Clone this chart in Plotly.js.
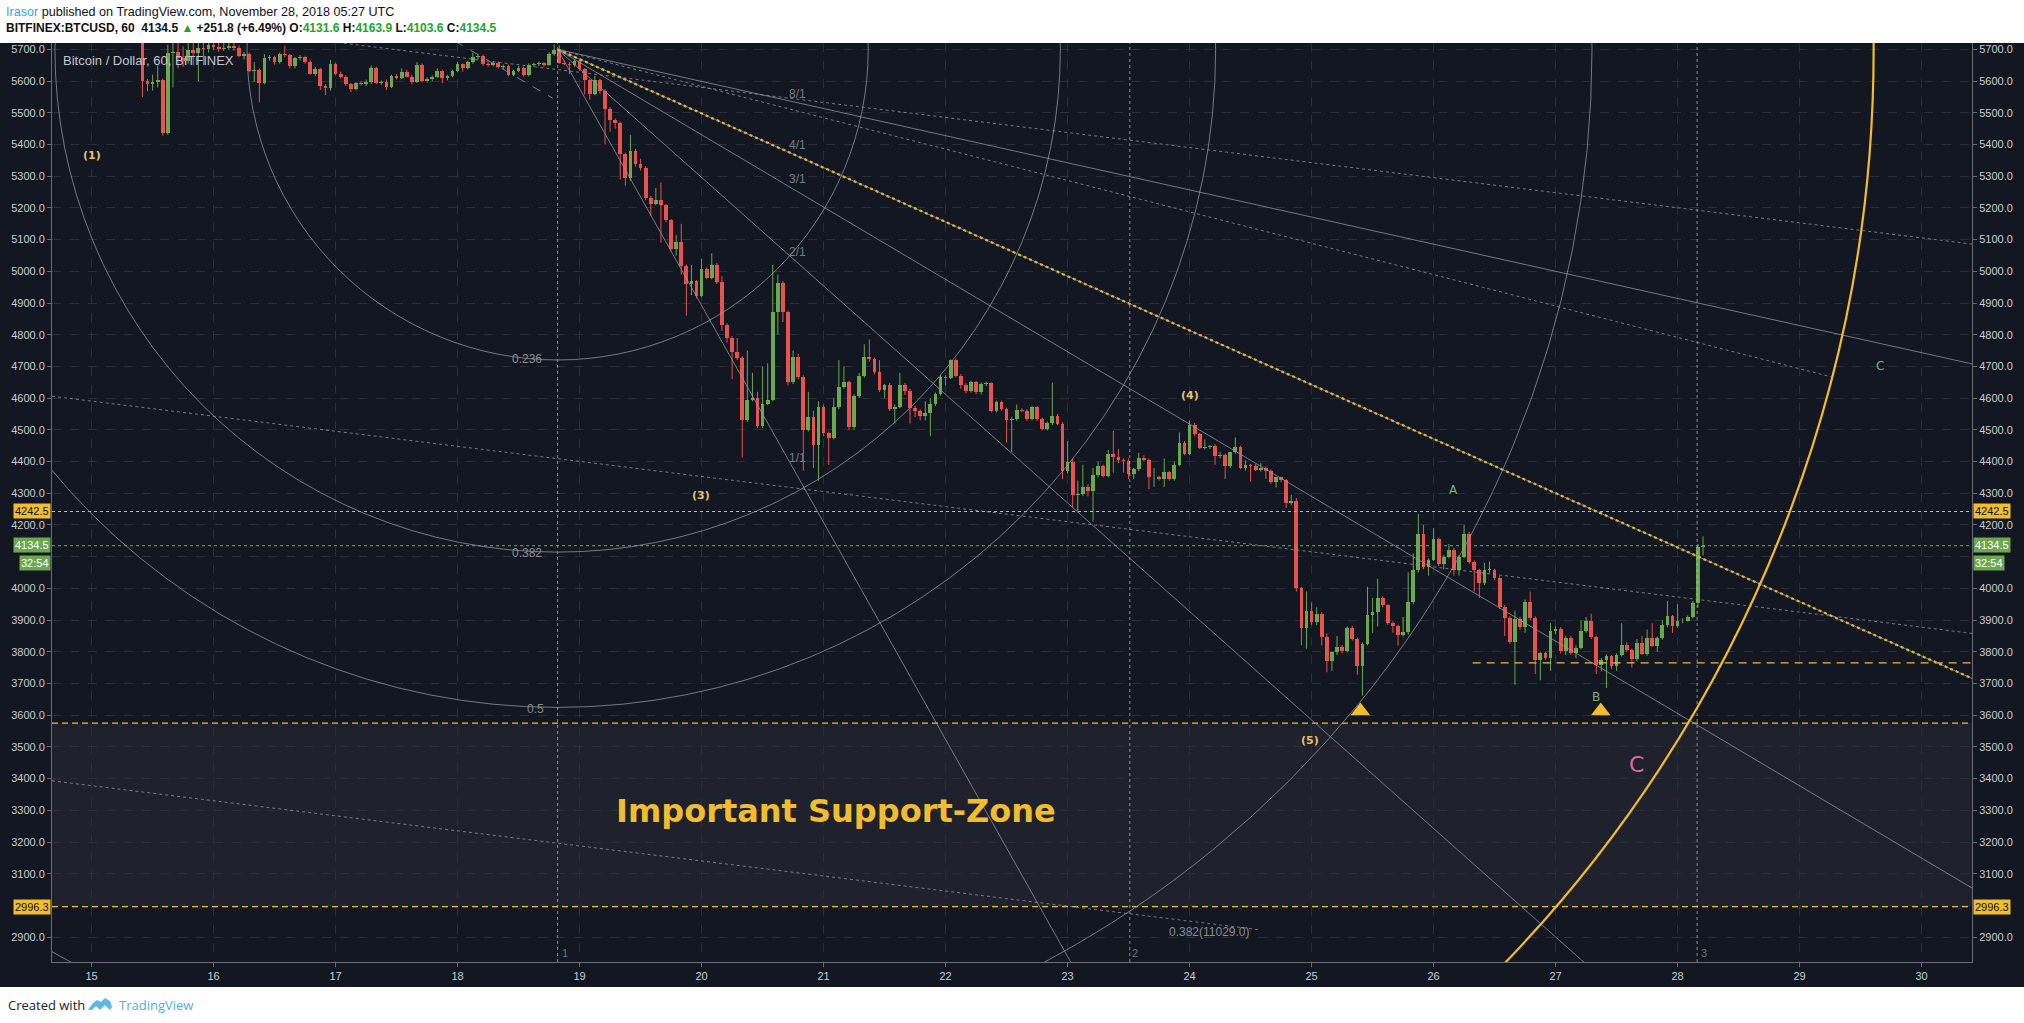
<!DOCTYPE html>
<html><head><meta charset="utf-8">
<script src="https://cdn.plot.ly/plotly-3.0.1.min.js"></script>
<style>html,body{margin:0;padding:0;background:#fff;overflow:hidden}#chart{width:2024px;height:1023px}</style>
</head><body><div id="chart"></div>
<script>
// ---------- DATA (hourly candles BITFINEX:BTCUSD, from Nov 15 2018 10:00) ----------
const firstCandle = '2018-11-15 10:00';
const opens = [5745,5600,5590,5597,5603,5435,5688,5692,5672,5662,
5697,5690,5705,5700,5714,5708,5700,5706,5712,5705,
5680,5686,5632,5636,5593,5672,5677,5659,5684,5682,
5648,5672,5677,5661,5624,5638,5586,5577,5653,5624,
5614,5590,5575,5593,5591,5596,5640,5593,5598,5582,
5616,5611,5630,5614,5598,5651,5600,5608,5614,5632,
5609,5617,5632,5653,5640,5659,5677,5680,5653,5650,
5658,5645,5648,5619,5632,5642,5619,5651,5653,5656,
5651,5684,5698,5658,5655,5651,5663,5637,5602,5560,
5602,5569,5511,5476,5469,5369,5295,5381,5340,5327,
5232,5213,5224,5209,5161,5072,5092,5017,4960,4968,
4922,5008,4980,5020,4965,4830,4790,4746,4727,4530,
4594,4600,4511,4582,4594,4871,4963,4871,4650,4731,
4668,4500,4542,4453,4573,4489,4474,4573,4636,4650,
4508,4608,4671,4731,4723,4681,4626,4640,4566,4573,
4643,4624,4569,4558,4543,4553,4582,4613,4666,4665,
4720,4671,4641,4624,4650,4618,4645,4647,4561,4587,
4566,4531,4534,4562,4560,4534,4571,4534,4503,4521,
4544,4520,4369,4400,4295,4299,4320,4308,4358,4387,
4355,4423,4413,4404,4402,4360,4376,4411,4404,4350,
4351,4345,4366,4345,4389,4460,4423,4516,4486,4444,
4446,4450,4418,4420,4387,4429,4446,4379,4390,4387,
4374,4381,4371,4337,4350,4341,4268,4277,4001,3875,
3930,3893,3919,3848,3772,3798,3816,3802,3875,3840,
3754,3825,3916,3927,3970,3946,3890,3880,3853,3862,
3956,4058,4170,4067,4090,4156,4077,4100,4121,4059,
4100,4172,4082,4058,4016,4058,4058,4033,3942,3907,
3832,3904,3877,3958,3907,3775,3795,3780,3867,3872,
3803,3844,3796,3812,3867,3896,3846,3759,3775,3786,
3754,3791,3822,3807,3778,3828,3793,3843,3819,3843,
3883,3912,3880,3896,3898,3909,3954,4131.6];
const highs = [5760,5606,5620,5650,5608,5715,5725,5722,5710,5720,
5725,5725,5725,5728,5726,5722,5722,5725,5725,5712,
5692,5690,5660,5640,5685,5682,5680,5690,5712,5686,
5676,5682,5680,5665,5645,5642,5590,5667,5658,5630,
5618,5594,5597,5600,5605,5650,5645,5602,5605,5620,
5622,5640,5636,5620,5660,5656,5612,5618,5640,5636,
5620,5636,5660,5656,5664,5690,5686,5684,5660,5662,
5662,5652,5652,5636,5648,5646,5656,5658,5662,5660,
5690,5716,5714,5665,5660,5668,5667,5641,5606,5616,
5608,5575,5518,5482,5472,5374,5430,5386,5355,5332,
5238,5263,5280,5212,5165,5115,5150,5022,5020,4972,
5040,5012,5057,5026,4985,4836,4795,4790,4732,4750,
4680,4620,4700,4710,5021,4990,4970,4876,4750,4740,
4672,4620,4560,4590,4580,4495,4600,4720,4700,4655,
4612,4680,4770,4785,4728,4720,4645,4648,4580,4680,
4648,4630,4575,4565,4590,4600,4618,4672,4672,4722,
4725,4676,4648,4655,4654,4650,4652,4650,4592,4592,
4570,4540,4580,4568,4565,4576,4575,4538,4526,4649,
4550,4525,4465,4410,4340,4390,4328,4380,4400,4390,
4437,4497,4440,4410,4410,4380,4428,4420,4410,4380,
4355,4410,4370,4400,4492,4465,4530,4522,4490,4470,
4452,4455,4430,4425,4430,4476,4450,4404,4393,4392,
4395,4385,4375,4350,4352,4345,4295,4285,4005,3990,
3955,3940,3925,3858,3800,3850,3822,3880,3882,3845,
3830,4005,3970,4030,3975,3950,3895,3885,3910,4050,
4110,4235,4200,4095,4190,4160,4105,4140,4128,4105,
4200,4178,4088,4062,4080,4085,4062,4038,3948,3912,
3930,3910,3965,3990,3912,3800,3800,3890,3880,3878,
3850,3850,3820,3900,3910,3920,3850,3780,3792,3790,
3795,3890,3830,3810,3840,3850,3870,3890,3848,3900,
3960,3916,3950,3905,3915,3960,4140,4163.9];
const lows = [5550,5568,5570,5580,5428,5430,5580,5640,5645,5655,
5650,5600,5650,5690,5698,5692,5695,5698,5695,5675,
5668,5628,5598,5533,5590,5665,5652,5655,5675,5640,
5640,5665,5655,5620,5615,5572,5556,5570,5618,5608,
5585,5565,5570,5586,5585,5590,5590,5588,5572,5578,
5605,5606,5612,5590,5594,5596,5595,5600,5610,5594,
5602,5612,5628,5630,5636,5655,5668,5648,5645,5646,
5640,5638,5615,5615,5628,5614,5615,5645,5648,5645,
5648,5680,5655,5650,5622,5645,5632,5558,5542,5555,
5560,5400,5440,5450,5290,5270,5285,5330,5318,5225,
5175,5208,5090,5155,5065,5050,4990,4860,4925,4915,
4918,4975,4975,4960,4812,4775,4660,4720,4413,4525,
4590,4505,4505,4578,4590,4800,4840,4640,4645,4660,
4371,4495,4380,4340,4480,4390,4470,4565,4630,4500,
4500,4600,4665,4715,4675,4620,4600,4560,4520,4568,
4610,4520,4540,4530,4530,4480,4575,4608,4640,4660,
4665,4630,4615,4618,4612,4612,4638,4555,4555,4560,
4460,4430,4528,4555,4528,4530,4528,4498,4498,4515,
4515,4345,4362,4253,4245,4292,4290,4211,4350,4350,
4350,4365,4395,4365,4345,4345,4370,4400,4313,4320,
4340,4320,4340,4340,4385,4420,4420,4480,4440,4438,
4440,4390,4410,4345,4380,4425,4376,4372,4337,4370,
4368,4345,4330,4318,4335,4253,4262,3990,3820,3810,
3885,3885,3820,3735,3740,3790,3795,3798,3835,3727,
3662,3820,3860,3880,3940,3885,3860,3820,3848,3855,
3950,4050,4060,4040,4086,4070,4060,4095,4040,4040,
4095,4078,3990,3970,4010,4050,4025,3935,3850,3825,
3696,3870,3860,3900,3730,3710,3775,3740,3855,3795,
3790,3790,3780,3808,3860,3840,3730,3738,3686,3745,
3740,3785,3800,3750,3770,3790,3788,3815,3800,3838,
3878,3860,3875,3890,3895,3905,3940,4103.6];
const closes = [5600,5590,5597,5603,5435,5688,5692,5672,5662,5697,
5690,5705,5700,5714,5708,5700,5706,5712,5705,5680,
5686,5632,5636,5593,5672,5677,5659,5684,5682,5648,
5672,5677,5661,5624,5638,5586,5577,5653,5624,5614,
5590,5575,5593,5591,5596,5640,5593,5598,5582,5616,
5611,5630,5614,5598,5651,5600,5608,5614,5632,5609,
5617,5632,5653,5640,5659,5677,5680,5653,5650,5658,
5645,5648,5619,5632,5642,5619,5651,5653,5656,5651,
5684,5698,5658,5655,5651,5663,5637,5602,5560,5602,
5569,5511,5476,5469,5369,5295,5381,5340,5327,5232,
5213,5224,5209,5161,5072,5092,5017,4960,4968,4922,
5008,4980,5020,4965,4830,4790,4746,4727,4530,4594,
4600,4511,4582,4594,4871,4963,4871,4650,4731,4668,
4500,4542,4453,4573,4489,4474,4573,4636,4650,4508,
4608,4671,4731,4723,4681,4626,4640,4566,4573,4643,
4624,4569,4558,4543,4553,4582,4613,4666,4665,4720,
4671,4641,4624,4650,4618,4645,4647,4561,4587,4566,
4531,4534,4562,4560,4534,4571,4534,4503,4521,4544,
4520,4369,4400,4295,4299,4320,4308,4358,4387,4355,
4423,4413,4404,4402,4360,4376,4411,4404,4350,4351,
4345,4366,4345,4389,4460,4423,4516,4486,4444,4446,
4450,4418,4420,4387,4429,4446,4379,4390,4387,4374,
4381,4371,4337,4350,4341,4268,4277,4001,3875,3930,
3893,3919,3848,3772,3798,3816,3802,3875,3840,3754,
3825,3916,3927,3970,3946,3890,3880,3853,3862,3956,
4058,4170,4067,4090,4156,4077,4100,4121,4059,4100,
4172,4082,4058,4016,4058,4058,4033,3942,3907,3832,
3904,3877,3958,3907,3775,3795,3780,3867,3872,3803,
3844,3796,3812,3867,3896,3846,3759,3775,3786,3754,
3791,3822,3807,3778,3828,3793,3843,3819,3843,3883,
3912,3880,3896,3898,3909,3954,4131.6,4134.5];

const dayTicks = [15,16,17,18,19,20,21,22,23,24,25,26,27,28,29,30];
const dayTickLabels = ['15','16','17','18','19','20','21','22','23','24','25','26','27','28','29','30'];
// price scale labels (3000.0 and 4100.0 sit under the 2996.3 / 4134.5 price boxes)
const priceTicks = [2900,3100,3200,3300,3400,3500,3600,3700,3800,3900,4000,4200,4300,4400,4500,4600,4700,4800,4900,5000,5100,5200,5300,5400,5500,5600,5700];
const priceTickLabels = ['2900.0','3100.0','3200.0','3300.0','3400.0','3500.0','3600.0','3700.0','3800.0','3900.0','4000.0','4200.0','4300.0','4400.0','4500.0','4600.0','4700.0','4800.0','4900.0','5000.0','5100.0','5200.0','5300.0','5400.0','5500.0','5600.0','5700.0'];
const fibLevels = [0.236, 0.382, 0.5, 0.786, 1];
const fibLabels = ['0.236', '0.382', '0.5'];
const gannRatios = [8, 4, 3, 2, 1];
const gannLabels = ['8/1', '4/1', '3/1', '2/1', '1/1'];
const resistancePrice = 4242.5;
const lastPrice = 4134.5;
const supportTop = 3575;
const supportBottom = 2996.3;
const bLevel = 3765;
const waveLabels = ['(1)', '(3)', '(4)', '(5)'];
const waveDays = [15.0, 19.995, 24.0, 24.99];
const wavePrices = [5364, 4292, 4607, 3519];
const abcLabels = ['A', 'B', 'C'];
const abcDays = [26.16, 27.33, 29.66];
const abcPrices = [4309, 3657, 4700];
const triangleDays = [25.40, 27.37];
const trianglePrices = [3613, 3613];

// ---------- helpers ----------
const HOUR = 3600000;
function fmt(ms) { return new Date(ms).toISOString().slice(0, 19).replace('T', ' '); }
const t0 = Date.parse(firstCandle.replace(' ', 'T') + ':00Z');
const times = opens.map((_, i) => fmt(t0 + i * HOUR));
function dayX(d) { return fmt(Date.UTC(2018, 10, 1) + (d - 1) * 86400000); }
const X_LEFT = 14.6754, X_RIGHT = 30.4131;
const PX_PER_DAY = 122.0, PX_PER_USD = 0.31704;
function px(x) { return (x - 52) / 1920; }
function py(y) { return (962 - y) / 919; }

const UP = '#6ba84f', DN = '#e8534f';
const colors = closes.map((c, i) => c >= opens[i] ? UP : DN);
const bodyBase = closes.map((c, i) => Math.min(c, opens[i]));
const bodyLen = closes.map((c, i) => Math.max(Math.abs(c - opens[i]), 2));

function wick(up) {
  const xs = [], ys = [];
  closes.forEach((c, i) => {
    if ((c >= opens[i]) === up) { xs.push(times[i], times[i], null); ys.push(lows[i], highs[i], null); }
  });
  return { type: 'scatter', mode: 'lines', x: xs, y: ys, line: { color: up ? UP : DN, width: 1 }, hoverinfo: 'skip', showlegend: false };
}

const traces = [
  wick(true), wick(false),
  { type: 'bar', x: times, y: bodyLen, base: bodyBase, width: HOUR * 0.74,
    marker: { color: colors, line: { width: 0 } }, showlegend: false, hoverinfo: 'skip' },
  { type: 'scatter', mode: 'markers', x: triangleDays.map(dayX), y: trianglePrices,
    marker: { symbol: 'triangle-up', size: 17, color: '#f0bd2f' }, showlegend: false, hoverinfo: 'skip' },
  { type: 'scatter', x: [times[0]], y: [null], yaxis: 'y2', showlegend: false, hoverinfo: 'skip' },
  { type: 'scatter', x: [times[0]], y: [null], yaxis: 'y3', showlegend: false, hoverinfo: 'skip' }
];

// ---------- drawings ----------
const GREY = 'rgba(150,153,163,0.75)';
const fanT = 18.82, fanP = 5700, slope11 = 684.5;
const shapes = [];
shapes.push({ type: 'rect', xref: 'paper', yref: 'paper', x0: px(0), x1: px(2024), y0: py(987), y1: py(43),
  fillcolor: '#131722', line: { width: 0 }, layer: 'below' });
// faint fill of the Gann fan sector (between 8/1 and 1/1)
shapes.push({ type: 'path', layer: 'below', fillcolor: 'rgba(160,170,200,0.055)', line: { width: 0 },
  path: 'M' + dayX(fanT) + ',' + fanP + ' L' + dayX(X_RIGHT) + ',' + (fanP - slope11 / 8 * (X_RIGHT - fanT)) +
        ' L' + dayX(X_RIGHT) + ',0 L' + dayX(fanT + fanP / slope11) + ',0 Z' });
shapes.push({ type: 'rect', xref: 'paper', yref: 'y', x0: 0, x1: 1, y0: supportBottom, y1: supportTop,
  fillcolor: 'rgba(150,155,170,0.09)', line: { width: 0 }, layer: 'below' });
shapes.push({ type: 'line', xref: 'paper', x0: 0, x1: 1, y0: supportTop, y1: supportTop, line: { color: '#f0bd2f', width: 1.3, dash: '6px,4px' } });
shapes.push({ type: 'line', xref: 'paper', x0: 0, x1: 1, y0: supportBottom, y1: supportBottom, line: { color: '#f0bd2f', width: 1.3, dash: '6px,4px' } });
shapes.push({ type: 'line', xref: 'paper', x0: 0, x1: 1, y0: resistancePrice, y1: resistancePrice, line: { color: '#f0bd2f', width: 1, dash: '3px,3px' } });
shapes.push({ type: 'line', xref: 'paper', x0: 0, x1: 1, y0: lastPrice, y1: lastPrice, line: { color: '#6ba84f', width: 1, dash: '3px,3px' } });
shapes.push({ type: 'line', x0: dayX(26.32), x1: dayX(X_RIGHT), y0: bLevel, y1: bLevel, line: { color: '#f0bd2f', width: 1.3, dash: '8px,6px' } });
[18.82, 23.51, 28.16].forEach(d => shapes.push({ type: 'line', x0: dayX(d), x1: dayX(d), yref: 'paper', y0: 0, y1: 1,
  line: { color: 'rgba(190,193,200,0.7)', width: 1, dash: 'dot' } }));
gannRatios.forEach(n => shapes.push({ type: 'line', x0: dayX(fanT), y0: fanP, x1: dayX(X_RIGHT),
  y1: fanP - slope11 / n * (X_RIGHT - fanT), line: { color: GREY, width: 1 } }));
shapes.push({ type: 'line', x0: dayX(fanT), y0: fanP, x1: dayX(X_RIGHT), y1: fanP - slope11 / 4 * (X_RIGHT - fanT),
  line: { color: '#e0b73a', width: 2.2, dash: 'dot' } });
shapes.push({ type: 'line', x0: dayX(fanT), y0: fanP, x1: dayX(29.27), y1: 4666, line: { color: GREY, width: 1, dash: 'dot' } });
const R1 = 1316;
fibLevels.forEach(l => {
  const dt = l * R1 / PX_PER_DAY, dp = l * R1 / PX_PER_USD;
  shapes.push({ type: 'circle', x0: dayX(fanT - dt), x1: dayX(fanT + dt), y0: fanP - dp, y1: fanP + dp,
    line: l === 1 ? { color: '#f0bd2f', width: 2.2 } : { color: GREY, width: 1 } });
});
shapes.push({ type: 'line', x0: dayX(X_LEFT), y0: 5833, x1: dayX(X_RIGHT), y1: 5086, line: { color: GREY, width: 1, dash: 'dot' } });
shapes.push({ type: 'line', x0: dayX(X_LEFT), y0: 4606, x1: dayX(X_RIGHT), y1: 3858, line: { color: GREY, width: 1, dash: 'dot' } });
shapes.push({ type: 'line', x0: dayX(X_LEFT), y0: 3393, x1: dayX(24.575), y1: 2923, line: { color: GREY, width: 1, dash: 'dot' } });
shapes.push({ type: 'line', x0: dayX(17.85), y0: 5755, x1: dayX(18.78), y1: 5546, line: { color: GREY, width: 1, dash: 'dash' } });
function P(x, y) { return px(x) + ',' + py(y); }
shapes.push({ type: 'path', xref: 'paper', yref: 'paper', fillcolor: '#5bb8e8', line: { width: 0 },
  path: 'M' + P(88, 1010) + ' L' + P(93, 1003) + ' L' + P(97, 1000) + ' L' + P(101, 1002) + ' L' + P(105, 998) + ' L' + P(110, 1001) + ' L' + P(112, 1007) + ' L' + P(110, 1010) + ' L' + P(105, 1005) + ' L' + P(100, 1010) + ' L' + P(96, 1006) + ' L' + P(92, 1010) + ' Z' });

// ---------- annotations ----------
const ann = [];
function A(x, y, text, o) { ann.push(Object.assign({ x: x, y: y, text: text, showarrow: false,
  font: { family: 'Liberation Sans, Arial, sans-serif', size: 12, color: '#787b86' } }, o || {})); }
A(px(4), py(12), '<span style="color:#3ba4dd">Irasor</span> published on TradingView.com, November 28, 2018 05:27 UTC',
  { xref: 'paper', yref: 'paper', xanchor: 'left', yanchor: 'middle', font: { family: 'Liberation Sans, sans-serif', size: 12.6, color: '#111' } });
A(px(4), py(28), '<b>BITFINEX:BTCUSD, 60  4134.5 <span style="color:#1fa32a">▲</span> +251.8 (+6.49%) O:<span style="color:#1fa32a">4131.6</span> H:<span style="color:#1fa32a">4163.9</span> L:<span style="color:#1fa32a">4103.6</span> C:<span style="color:#1fa32a">4134.5</span></b>',
  { xref: 'paper', yref: 'paper', xanchor: 'left', yanchor: 'middle', font: { family: 'Liberation Sans, sans-serif', size: 12, color: '#111' } });
A(px(6), py(1005), 'Created with', { xref: 'paper', yref: 'paper', xanchor: 'left', yanchor: 'middle', font: { family: 'Open Sans, sans-serif', size: 13, color: '#222' } });
A(px(117), py(1005), 'TradingView', { xref: 'paper', yref: 'paper', xanchor: 'left', yanchor: 'middle', font: { family: 'Open Sans, sans-serif', size: 13, color: '#4ab0e4' } });
A(px(61), py(61), 'Bitcoin / Dollar, 60, BITFINEX', { xref: 'paper', yref: 'paper', xanchor: 'left', yanchor: 'middle', font: { family: 'Liberation Sans, sans-serif', size: 13, color: '#c3c6ce' } });
const gannLabelPrices = [5559, 5400, 5290, 5062, 4411];
gannLabels.forEach((t, i) => A(dayX(20.79), gannLabelPrices[i], t, { font: { family: 'Liberation Sans, sans-serif', size: 12, color: '#787b86' } }));
const fibLabelDays = [18.565, 18.565, 18.64], fibLabelPrices = [4724, 4113, 3620];
fibLabels.forEach((t, i) => A(dayX(fibLabelDays[i]), fibLabelPrices[i], t, { font: { family: 'Liberation Sans, sans-serif', size: 12, color: '#8a8d96' } }));
A(dayX(24.163), 2916, '0.382(11029.0)', { font: { family: 'Liberation Sans, sans-serif', size: 12, color: '#8a8d96' } });
['1', '2', '3'].forEach((t, i) => A(dayX([18.884, 23.55, 28.215][i]), 2851, t, { font: { family: 'Liberation Sans, sans-serif', size: 11, color: '#6f727c' } }));
waveLabels.forEach((t, i) => A(dayX(waveDays[i]), wavePrices[i], '<b>' + t + '</b>', { font: { family: 'DejaVu Sans, sans-serif', size: 11, color: '#e3c170' } }));
abcLabels.forEach((t, i) => A(dayX(abcDays[i]), abcPrices[i], t, { font: { family: 'DejaVu Sans, sans-serif', size: 12, color: '#86ad7e' } }));
A(dayX(27.66), 3446, 'C', { font: { family: 'DejaVu Sans, sans-serif', size: 22, color: '#d46f9c' } });
A(dayX(21.10), 3298, '<b>Important Support-Zone</b>', { font: { family: 'DejaVu Sans, sans-serif', size: 32, color: '#f0bd2f' } });
function box(side, price, text, bg, fg, shift) {
  A(side === 'r' ? 1 : 0, price, text, { xref: 'paper', yref: 'y', xanchor: side === 'r' ? 'left' : 'right', yanchor: 'middle',
    xshift: side === 'r' ? 1 : -1, yshift: shift || 0, bgcolor: bg, borderpad: 1,
    font: { family: 'Liberation Sans, sans-serif', size: 11, color: fg } });
}
['r', 'l'].forEach(s => {
  box(s, resistancePrice, '4242.5', '#f0bd2f', '#111');
  box(s, lastPrice, '4134.5', '#6ba84f', '#fff', 1);
  box(s, lastPrice, '32:54', '#6ba84f', '#fff', -17);
  box(s, supportBottom, '2996.3', '#f0bd2f', '#111');
});

const axisFont = { family: 'Liberation Sans, Arial, sans-serif', size: 11, color: '#c9ccd4' };
const YR = [2821.5, 5720.2];
const layout = {
  width: 2024, height: 1023,
  margin: { l: 52, r: 52, t: 43, b: 61, pad: 0 },
  paper_bgcolor: '#ffffff', plot_bgcolor: 'rgba(0,0,0,0)',
  showlegend: false, bargap: 0, hovermode: false,
  xaxis: { type: 'date', range: [dayX(X_LEFT), dayX(X_RIGHT)], tickvals: dayTicks.map(dayX), ticktext: dayTickLabels,
    showgrid: true, gridcolor: '#2a2e39', griddash: 'dash', zeroline: false,
    showline: true, linecolor: '#6a6d78', linewidth: 1, ticks: 'outside', ticklen: 4, tickcolor: '#6a6d78',
    tickfont: axisFont, fixedrange: true },
  yaxis: { side: 'right', range: YR, dtick: 100, tick0: 0, showticklabels: false, ticks: '',
    showgrid: true, gridcolor: '#2a2e39', griddash: 'dash', zeroline: false,
    showline: true, linecolor: '#6a6d78', fixedrange: true },
  yaxis2: { overlaying: 'y', side: 'right', matches: 'y', range: YR, tickmode: 'array', tickvals: priceTicks, ticktext: priceTickLabels,
    showgrid: false, zeroline: false, showline: false, ticks: 'outside', ticklen: 4, tickcolor: '#6a6d78', tickfont: axisFont, fixedrange: true },
  yaxis3: { overlaying: 'y', side: 'left', matches: 'y', range: YR, tickmode: 'array', tickvals: priceTicks, ticktext: priceTickLabels,
    showgrid: false, zeroline: false, showline: true, linecolor: '#6a6d78', ticks: 'outside', ticklen: 4, tickcolor: '#6a6d78', tickfont: axisFont, fixedrange: true },
  shapes: shapes, annotations: ann
};
Plotly.newPlot('chart', traces, layout, { displayModeBar: false, staticPlot: true });
</script></body></html>
